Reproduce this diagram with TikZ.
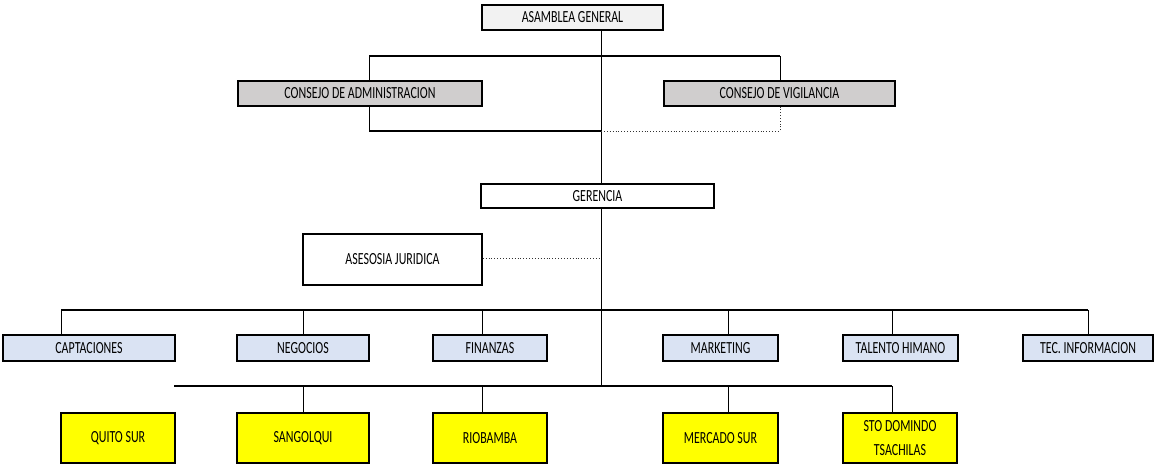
\documentclass[tikz,border=0pt]{standalone}
\usepackage{fontspec}
\setmainfont{Carlito}
\definecolor{agfill}{RGB}{242,242,242}
\definecolor{cfill}{RGB}{208,206,206}
\definecolor{dfill}{RGB}{218,227,243}
\definecolor{yfill}{RGB}{255,255,0}
\tikzset{
  box/.style={draw=black, line width=1.4pt, inner sep=0pt, align=center,
    font=\fontsize{12.3}{17}\selectfont},
  hline/.style={line width=1.6pt},
  vline/.style={line width=0.8pt},
  dotline/.style={line width=0.9pt, dotted, draw=black!80},
}
\newcommand{\tx}[1]{\scalebox{0.97}[1.38]{#1}}
\begin{document}
\begin{tikzpicture}[x=1pt,y=-1pt]
\useasboundingbox (0,0) rectangle (1154,466);
\coordinate (trunk) at (601,0);
% nodes
\node[box, fill=agfill, minimum width=181pt, minimum height=25pt] (ag) at (572.5,17.5) {\tx{ASAMBLEA GENERAL}};
\node[box, fill=cfill, minimum width=244pt, minimum height=25pt] (ca) at (360,93.5) {\tx{CONSEJO DE ADMINISTRACION}};
\node[box, fill=cfill, minimum width=231pt, minimum height=25pt] (cv) at (779.5,93.5) {\tx{CONSEJO DE VIGILANCIA}};
\node[box, fill=white, minimum width=233pt, minimum height=24pt] (ge) at (597.5,196) {\tx{GERENCIA}};
\node[box, fill=white, minimum width=179pt, minimum height=51pt] (as) at (392.5,259.5) {\tx{ASESOSIA JURIDICA}};
% row 1
\node[box, fill=dfill, minimum width=172pt, minimum height=26pt] (cap) at (89,348) {\tx{CAPTACIONES}};
\node[box, fill=dfill, minimum width=132pt, minimum height=26pt] (neg) at (303,348) {\tx{NEGOCIOS}};
\node[box, fill=dfill, minimum width=114pt, minimum height=26pt] (fin) at (490,348) {\tx{FINANZAS}};
\node[box, fill=dfill, minimum width=115pt, minimum height=26pt] (mkt) at (720.5,348) {\tx{MARKETING}};
\node[box, fill=dfill, minimum width=115pt, minimum height=26pt] (tal) at (900.5,348) {\tx{TALENTO HIMANO}};
\node[box, fill=dfill, minimum width=130pt, minimum height=26pt] (tec) at (1088,348) {\tx{TEC. INFORMACION}};
% row 2
\node[box, fill=yfill, minimum width=114pt, minimum height=50pt] (qs) at (118,438) {\tx{QUITO SUR}};
\node[box, fill=yfill, minimum width=132pt, minimum height=50pt] (sa) at (303,438) {\tx{SANGOLQUI}};
\node[box, fill=yfill, minimum width=114pt, minimum height=50pt] (ri) at (490,438) {\tx{RIOBAMBA}};
\node[box, fill=yfill, minimum width=115pt, minimum height=50pt] (me) at (720.5,438) {\tx{MERCADO SUR}};
\node[box, fill=yfill, minimum width=114pt, minimum height=50pt] (st) at (900,438) {\tx{STO DOMINDO}\\[7pt]\tx{TSACHILAS}};
% coordinates
\coordinate (tb1) at (369,56);
\coordinate (tb2) at (780,56);
\coordinate (bb1) at (369,131);
\coordinate (bb2) at (780,131);
\coordinate (mid) at (601,131);
\coordinate (r1L) at (61,310);
\coordinate (r1R) at (1088,310);
\coordinate (r2L) at (174,386);
\coordinate (r2R) at (892,386);
\coordinate (tEnd) at (601,386);
\coordinate (asj) at (601,258);
\coordinate (xfin) at (482,310);
\coordinate (xmkt) at (728,310);
\coordinate (xtal) at (892,310);
\coordinate (xri) at (482,386);
\coordinate (xme) at (728,386);
% trunk
\draw[vline] (ag.south -| trunk) -- (ge.north -| trunk);
\draw[vline] (ge.south -| trunk) -- (tEnd);
% consejo brackets
\draw[hline] (tb1) -- (tb2);
\draw[vline] (tb1) -- (ca.north -| tb1);
\draw[vline] (tb2) -- (cv.north -| tb2);
\draw[vline] (ca.south -| bb1) -- (bb1);
\draw[hline] (bb1) -- (mid);
\draw[dotline] (mid) -- (bb2) -- (cv.south -| bb2);
% asesoria
\draw[dotline] (as.east |- asj) -- (asj);
% row 1
\draw[hline] (r1L) -- (r1R);
\draw[vline] (r1L) -- (cap.north -| r1L);
\draw[vline] (neg.north |- r1L) -- (neg.north);
\draw[vline] (xfin) -- (fin.north -| xfin);
\draw[vline] (xmkt) -- (mkt.north -| xmkt);
\draw[vline] (xtal) -- (tal.north -| xtal);
\draw[vline] (r1R) -- (tec.north -| r1R);
% row 2
\draw[hline] (r2L) -- (r2R);
\draw[vline] (sa.north |- r2L) -- (sa.north);
\draw[vline] (xri) -- (ri.north -| xri);
\draw[vline] (xme) -- (me.north -| xme);
\draw[vline] (r2R) -- (st.north -| r2R);
\end{tikzpicture}
\end{document}
